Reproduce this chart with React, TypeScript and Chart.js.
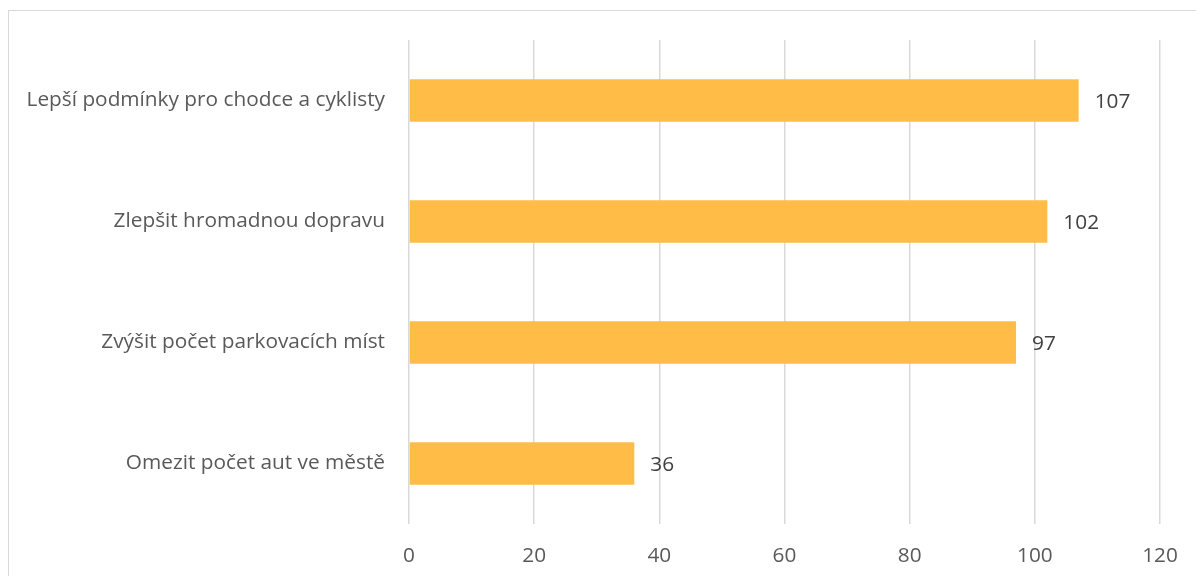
import React, { useEffect, useRef } from "react";
import { Chart, registerables } from "chart.js";

Chart.register(...registerables);

const categories: string[] = [
  "Lepší podmínky pro chodce a cyklisty",
  "Zlepšit hromadnou dopravu",
  "Zvýšit počet parkovacích míst",
  "Omezit počet aut ve městě",
];
const values: number[] = [107, 102, 97, 36];
const xTicks: number[] = [0, 20, 40, 60, 80, 100, 120];

const FONT = "'Open Sans', sans-serif";
const FS = 20.8;

const dataLabelPlugin = {
  id: "dataLabels",
  afterDatasetsDraw(chart: any) {
    const ctx = chart.ctx;
    const meta = chart.getDatasetMeta(0);
    ctx.save();
    ctx.font = `${FS}px ${FONT}`;
    ctx.fillStyle = "#404040";
    ctx.textAlign = "left";
    ctx.textBaseline = "middle";
    meta.data.forEach((bar: any, i: number) => {
      ctx.fillText(String(values[i]), bar.x + 16, bar.y + 1.5);
    });
    ctx.restore();
  },
};

export default function App() {
  const ref = useRef<HTMLCanvasElement | null>(null);
  useEffect(() => {
    if (!ref.current) return;
    const chart = new Chart(ref.current, {
      type: "bar",
      data: {
        labels: categories,
        datasets: [
          {
            data: values,
            backgroundColor: "#FFBC47",
            categoryPercentage: 1,
            barPercentage: 0.35,
          },
        ],
      },
      options: {
        indexAxis: "y",
        animation: false,
        responsive: false,
        maintainAspectRatio: false,
        layout: { padding: { top: 40, right: 36, left: 0, bottom: 0 } },
        plugins: { legend: { display: false }, tooltip: { enabled: false } },
        scales: {
          x: {
            min: 0,
            max: 120,
            afterFit: (s: any) => {
              s.height = 52;
              s.paddingLeft = 0;
              s.paddingRight = 0;
            },
            afterBuildTicks: (s: any) => {
              s.ticks = xTicks.map((v) => ({ value: v }));
            },
            grid: { color: "#d9d9d9", lineWidth: 1.5, drawTicks: false },
            border: { display: false },
            ticks: {
              padding: 20,
              color: "#595959",
              font: { family: FONT, size: FS },
            },
          },
          y: {
            afterFit: (s: any) => {
              s.width = 409;
            },
            grid: { display: false, drawTicks: false },
            border: { display: false },
            ticks: {
              padding: 24,
              color: "#595959",
              font: { family: FONT, size: FS },
            },
          },
        },
      },
      plugins: [dataLabelPlugin],
    });
    return () => chart.destroy();
  }, []);
  return (
    <div style={{ position: "fixed", left: 0, top: 0, width: 1196, height: 576, background: "#fff", overflow: "hidden" }}>
      <div
        style={{
          position: "absolute",
          left: 8,
          top: 10,
          width: 1300,
          height: 700,
          border: "1px solid #d9d9d9",
          boxSizing: "border-box",
        }}
      />
      <canvas ref={ref} width={1196} height={576} style={{ position: "absolute", left: 0, top: 0 }} />
    </div>
  );
}
